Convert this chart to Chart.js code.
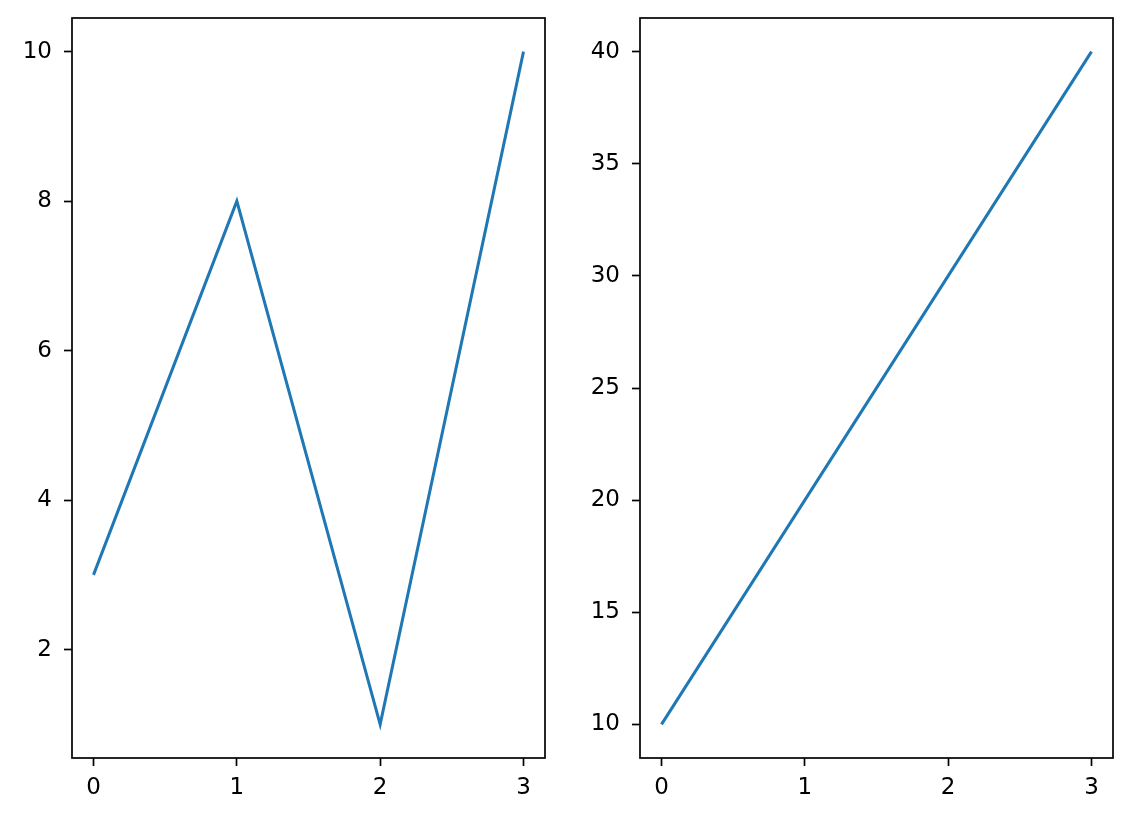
<!DOCTYPE html>
<html>
<head>
<meta charset="utf-8">
<script src="https://cdn.jsdelivr.net/npm/chart.js@4"></script>
<style>
  body { margin: 0; background: #fff; width: 1132px; height: 822px; position: relative; overflow: hidden; }
  .box { position: absolute; top: 0; height: 822px; }
</style>
</head>
<body>
<div class="box" style="left:0;width:560px"><canvas id="left"></canvas></div>
<div class="box" style="left:566px;width:566px"><canvas id="right"></canvas></div>
<script>
// dati dei due pannelli
const xValues = [0, 1, 2, 3];
const leftValues = [3, 8, 1, 10];
const rightValues = [10, 20, 30, 40];
const xTicks = [0, 1, 2, 3];
const leftTicks = [2, 4, 6, 8, 10];
const rightTicks = [10, 15, 20, 25, 30, 35, 40];

Chart.defaults.font.family = 'DejaVu Sans';
Chart.defaults.font.size = 23;
Chart.defaults.color = '#000';

// cornice intorno all'area del grafico
const frame = {
    id: 'frame',
    afterDraw(chart) {
        const a = chart.chartArea, c = chart.ctx;
        c.save();
        c.strokeStyle = '#000';
        c.lineWidth = 1.7;
        c.strokeRect(a.left, a.top, a.right - a.left, a.bottom - a.top);
        c.restore();
    }
};

function makeChart(id, values, yMin, yMax, yTicks, yWidth, padRight) {
    const ctx = document.getElementById(id).getContext('2d');
    return new Chart(ctx, {
        type: 'line',
        data: {
            datasets: [{
                data: xValues.map((x, i) => ({ x, y: values[i] })),
                borderColor: '#1f77b4',
                borderWidth: 3,
                pointRadius: 0,
                tension: 0,
                fill: false
            }]
        },
        options: {
            responsive: true,
            maintainAspectRatio: false,
            animation: false,
            layout: { padding: { top: 18, right: padRight, left: 0, bottom: 0 } },
            plugins: { legend: { display: false }, tooltip: { enabled: false } },
            scales: {
                x: {
                    type: 'linear',
                    min: -0.15, max: 3.15,
                    afterBuildTicks: s => { s.ticks = xTicks.map(v => ({ value: v })); },
                    afterFit: s => { s.height = 64; s.paddingLeft = 0; s.paddingRight = 0; },
                    grid: { drawOnChartArea: false, tickLength: 8, tickWidth: 1.7, tickColor: '#000' },
                    border: { display: false },
                    ticks: { padding: 8, maxRotation: 0 }
                },
                y: {
                    min: yMin, max: yMax,
                    afterBuildTicks: s => { s.ticks = yTicks.map(v => ({ value: v })); },
                    afterFit: s => { s.width = yWidth; s.paddingTop = 0; s.paddingBottom = 0; },
                    grid: { drawOnChartArea: false, tickLength: 8, tickWidth: 1.7, tickColor: '#000' },
                    border: { display: false },
                    ticks: { padding: 12 }
                }
            }
        },
        plugins: [frame]
    });
}

makeChart('left', leftValues, 0.55, 10.45, leftTicks, 72, 15);
makeChart('right', rightValues, 8.5, 41.5, rightTicks, 74, 19);
</script>
</body>
</html>
